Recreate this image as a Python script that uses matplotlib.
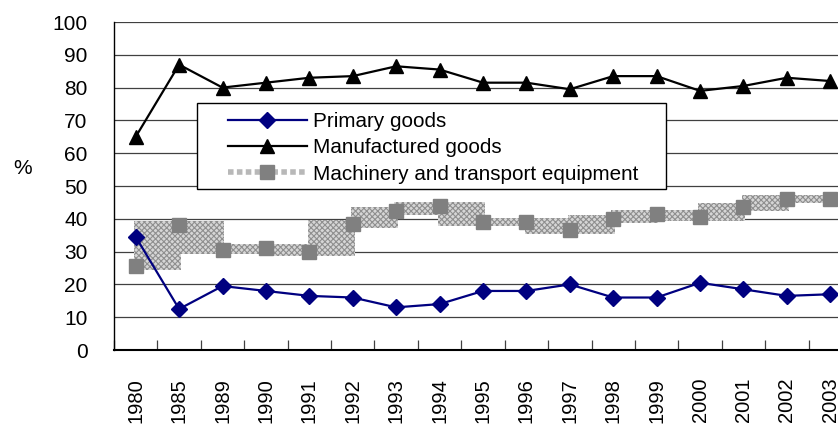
import matplotlib
matplotlib.use("Agg")
import matplotlib.pyplot as plt
from matplotlib.patches import Rectangle
from matplotlib.lines import Line2D
import numpy as np

plt.rcParams['font.family'] = ['Liberation Sans', 'DejaVu Sans']
plt.rcParams['hatch.linewidth'] = 0.8

years = ["1980", "1985", "1989", "1990", "1991", "1992", "1993", "1994", "1995",
         "1996", "1997", "1998", "1999", "2000", "2001", "2002", "2003"]
primary = [34.5, 12.5, 19.5, 18.0, 16.5, 16.0, 13.0, 14.0, 18.0,
           18.0, 20.0, 16.0, 16.0, 20.5, 18.5, 16.5, 17.0]
manufactured = [65.0, 87.0, 80.0, 81.5, 83.0, 83.5, 86.5, 85.5, 81.5,
                81.5, 79.5, 83.5, 83.5, 79.0, 80.5, 83.0, 82.0]
machinery = [25.5, 38.0, 30.5, 31.0, 30.0, 38.5, 42.5, 44.0, 39.0,
             39.0, 36.5, 40.0, 41.5, 40.5, 43.5, 46.0, 46.0]
yticks = [0, 10, 20, 30, 40, 50, 60, 70, 80, 90, 100]
labels = ["Primary goods", "Manufactured goods", "Machinery and transport equipment"]

W, H = 838, 428
fig = plt.figure(figsize=(W / 100, H / 100), dpi=100)
ax = fig.add_axes([114 / W, 1 - 350 / H, (852 - 114) / W, (350 - 22) / H])

x = np.arange(len(years))
ax.set_xlim(-0.5, len(years) - 0.5)
ax.set_ylim(0, 100)

# gridlines
ax.set_yticks(yticks)
ax.yaxis.grid(True, color='#404040', linewidth=0.9, zorder=0)
ax.set_axisbelow(True)

# machinery: textured thick "pattern" line rendered as blocks
pad = 1.2
for i in range(len(x) - 1):
    lo = min(machinery[i], machinery[i + 1]) - pad
    hi = max(machinery[i], machinery[i + 1]) + pad
    r = Rectangle((x[i] - 0.04, lo), (x[i + 1] - x[i]) + 0.08, hi - lo,
                  facecolor='#d6d6d6', edgecolor='#8f8f8f', hatch='xxxxxx',
                  linewidth=0, zorder=2)
    ax.add_patch(r)
ax.plot(x, machinery, linestyle='none', marker='s', markersize=10.5,
        color='#808080', zorder=3)

ax.plot(x, primary, color='#000080', linewidth=1.6, marker='D', markersize=8.5,
        markerfacecolor='#000080', markeredgecolor='#000080', zorder=4)
ax.plot(x, manufactured, color='black', linewidth=1.6, marker='^', markersize=10,
        markerfacecolor='black', zorder=4)

# axes styling
for s in ['top', 'right']:
    ax.spines[s].set_visible(False)
ax.spines['left'].set_color('black')
ax.spines['left'].set_linewidth(1.0)
ax.spines['bottom'].set_color('black')
ax.spines['bottom'].set_linewidth(1.5)

ax.set_xticks(x)
ax.set_xticklabels(years, rotation=90, fontsize=14.5)
ax.tick_params(axis='x', which='major', length=0, pad=20)
ax.set_xticks(np.arange(-0.5, len(years), 1.0), minor=True)
ax.tick_params(axis='x', which='minor', direction='in', length=7, width=0.9, color='#404040')
ax.set_yticklabels([str(v) for v in yticks], fontsize=15)
ax.tick_params(axis='y', length=0, pad=19)

fig.text(23 / W, 1 - 168 / H, '%', ha='center', va='center', fontsize=15)

# legend frame (drawn separately to match the reference's padding)
frame = Rectangle((197 / W, 1 - 189 / H), (666 - 197) / W, (189 - 103) / H,
                  transform=fig.transFigure, facecolor='white', edgecolor='black',
                  linewidth=1.0, zorder=9)
fig.add_artist(frame)

handles = [
    Line2D([], [], color='#000080', linewidth=1.6, marker='D', markersize=8.5),
    Line2D([], [], color='black', linewidth=1.6, marker='^', markersize=10),
    Line2D([], [], color='#b8b8b8', linewidth=4, linestyle=(0, (1, 0.6)),
           marker='s', markersize=10.5, markerfacecolor='#808080', markeredgecolor='#808080'),
]
leg = fig.legend(handles, labels, loc='center left',
                 bbox_to_anchor=(228 / W, 1 - 148 / H),
                 fontsize=14.9, handlelength=3.8, handletextpad=0.3, labelspacing=0.35,
                 frameon=False, borderaxespad=0, borderpad=0)
leg.set_zorder(10)

fig.savefig('out.png', dpi=100)
